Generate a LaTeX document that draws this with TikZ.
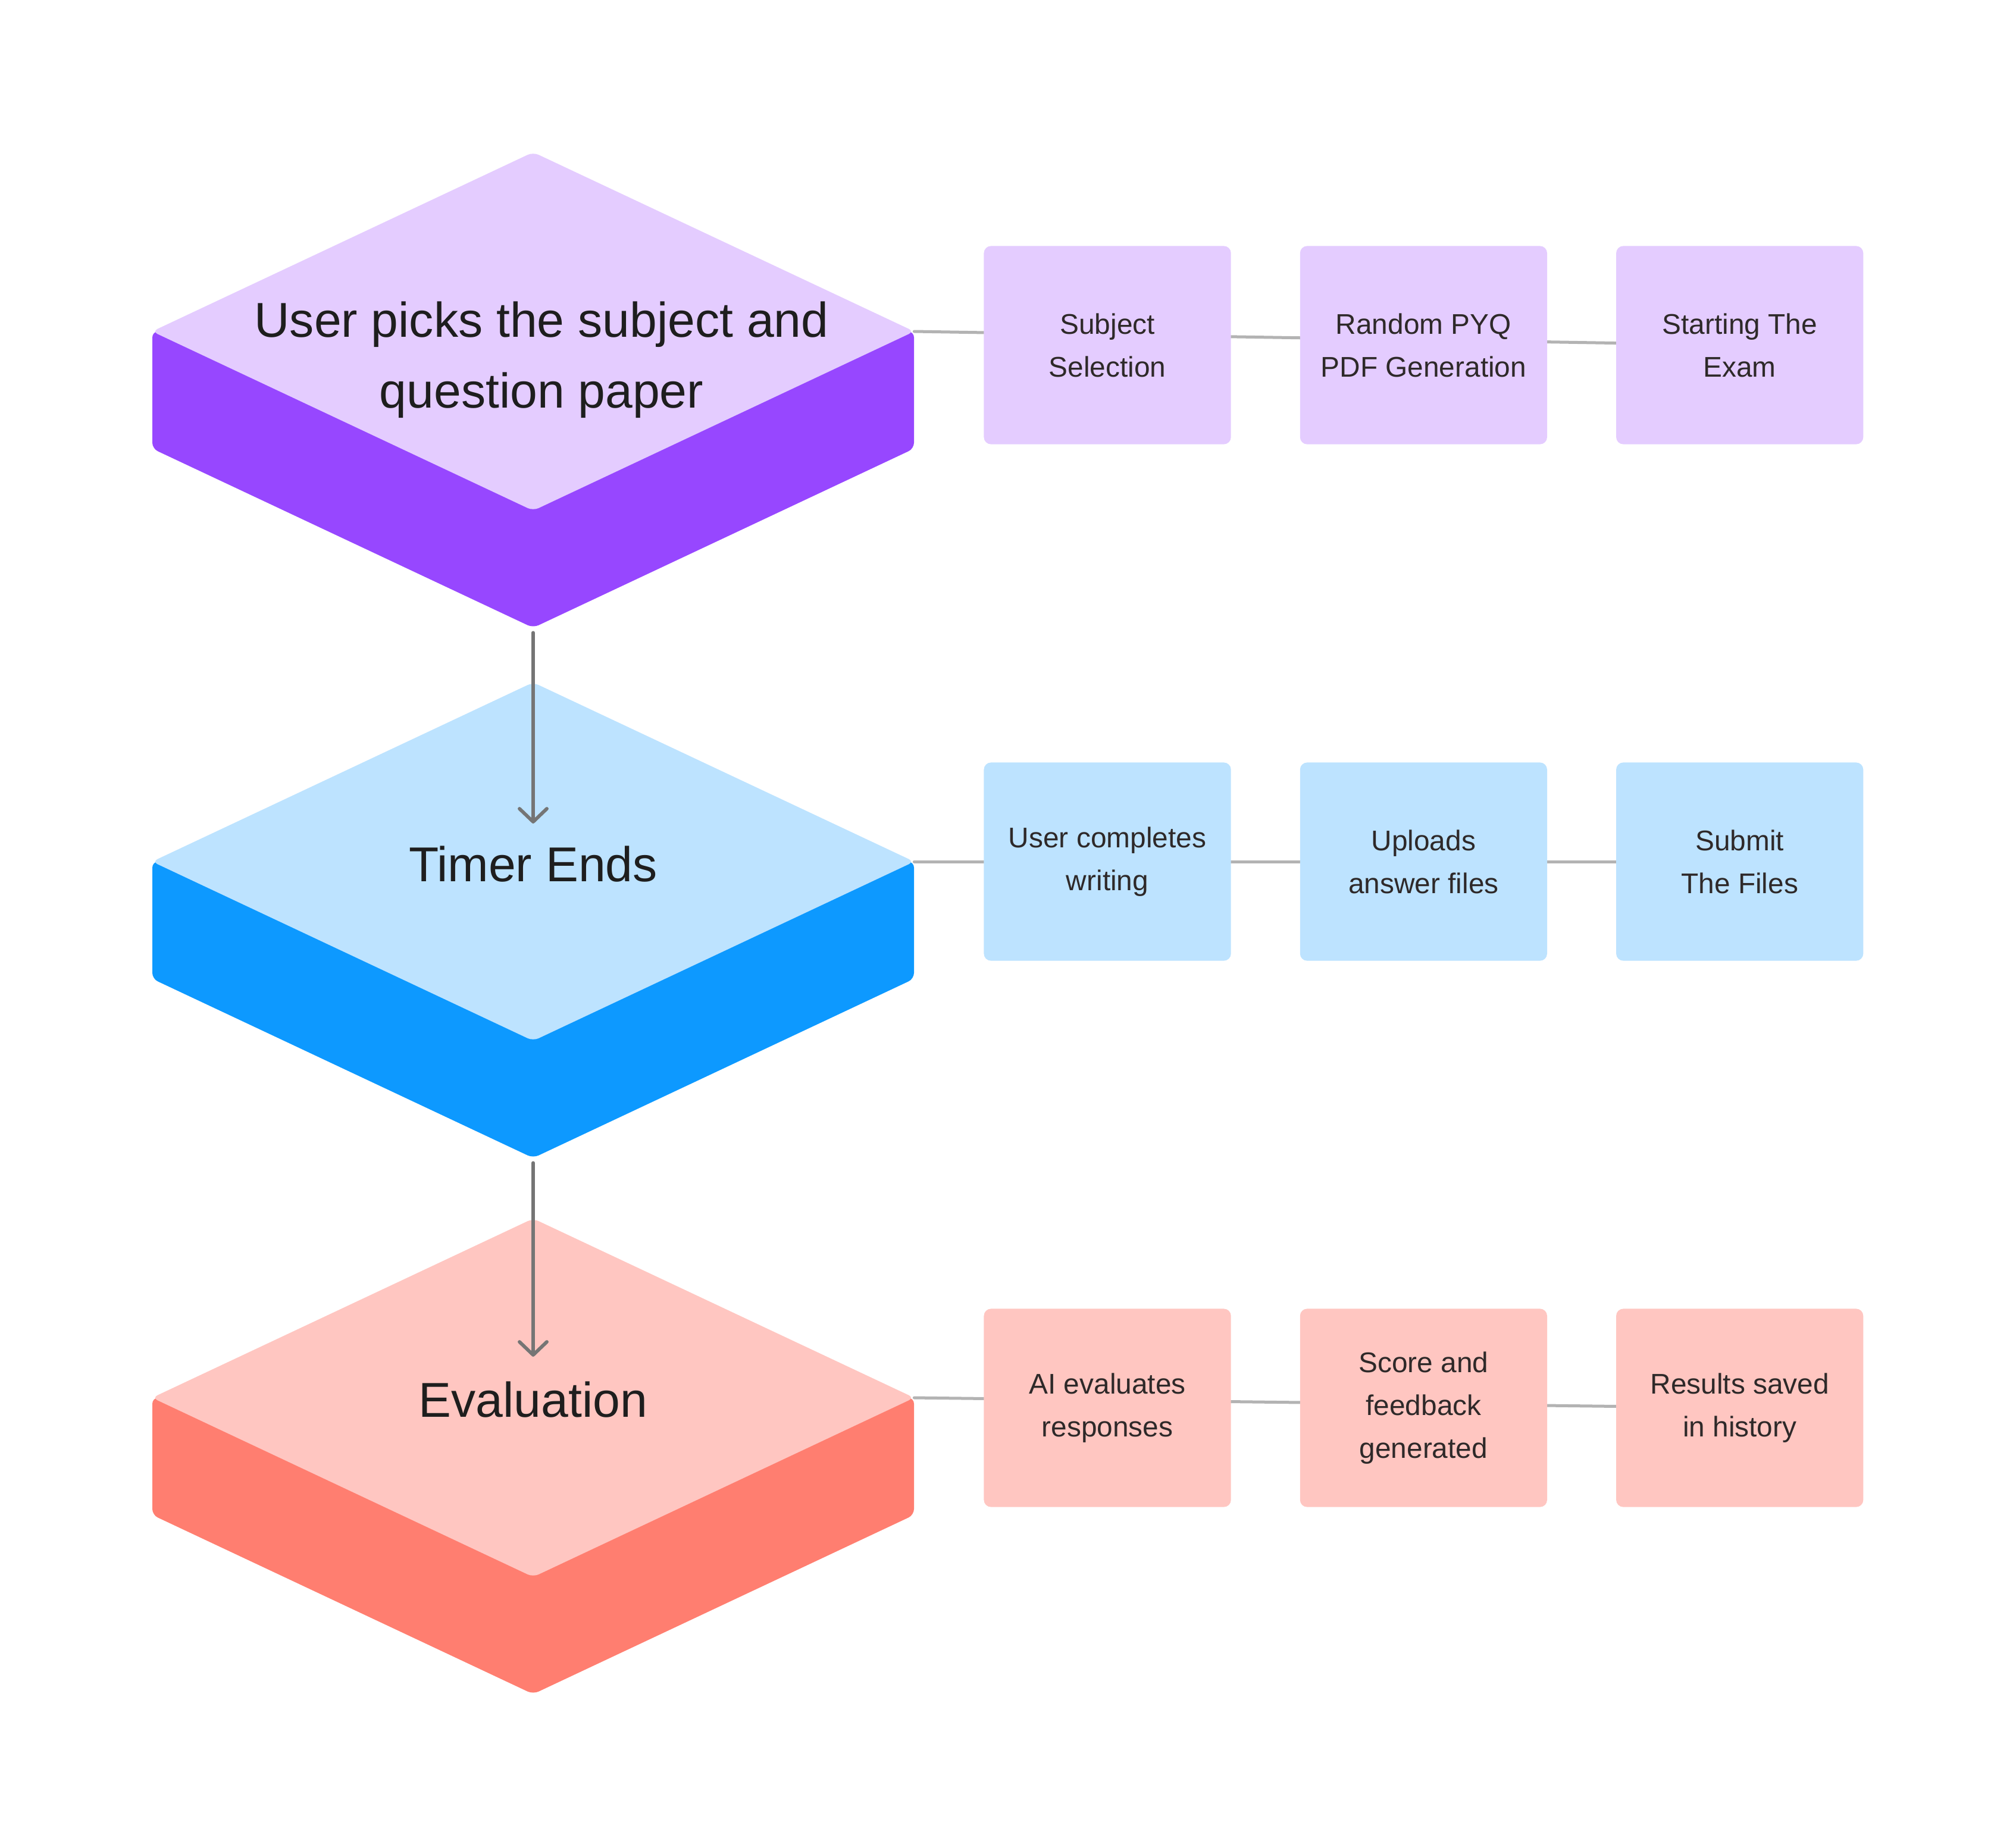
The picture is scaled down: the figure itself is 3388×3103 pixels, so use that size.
\documentclass[tikz,border=0pt]{standalone}
\usepackage{fontspec}
\setmainfont{Liberation Sans}
\usetikzlibrary{shapes.geometric, positioning, arrows.meta, backgrounds}

\definecolor{purpletop}{HTML}{E4CCFF}
\definecolor{purpleside}{HTML}{9747FF}
\definecolor{bluetop}{HTML}{BDE3FF}
\definecolor{blueside}{HTML}{0D99FF}
\definecolor{redtop}{HTML}{FFC6C1}
\definecolor{redside}{HTML}{FF7E70}
\definecolor{linkgray}{HTML}{B3B3B3}
\definecolor{arrowgray}{HTML}{757575}
\definecolor{inktext}{HTML}{1E1E1E}
\definecolor{boxtext}{HTML}{2E2929}

\tikzset{
  stage/.style={diamond, minimum width=12.8cm, minimum height=6.02cm, inner sep=0pt, outer sep=0pt, rounded corners=0.1cm},
  stagetext/.style={align=center, text=inktext, font=\fontsize{23.4}{33.8}\selectfont},
  stepbox/.style={rectangle, minimum width=4.15cm, minimum height=3.33cm, inner sep=0pt, outer sep=0pt, rounded corners=0.12cm, align=center, text=boxtext, font=\fontsize{13.6}{20.5}\selectfont},
  link/.style={draw=linkgray, line width=0.05cm, line cap=round},
  flow/.style={draw=arrowgray, line width=0.058cm, line cap=round, shorten <=0.08cm, -{Straight Barb[round, length=0.22cm, width=0.46cm]}},
}

\begin{document}
\begin{tikzpicture}[x=0.01cm, y=-0.01cm]
    \useasboundingbox (0,0) rectangle (3388,3103);

    % block centres
    \coordinate (c1) at (896,557);
    \coordinate (c2) at (896,1448);
    \coordinate (c3) at (896,2349);

    % extruded sides
    \fill[purpleside, rounded corners=0.1cm] (c1) ++(-640,0) -- ++(0,197) -- ++(640,301) -- ++(640,-301) -- ++(0,-197) -- cycle;
    \fill[blueside, rounded corners=0.1cm] (c2) ++(-640,0) -- ++(0,197) -- ++(640,301) -- ++(640,-301) -- ++(0,-197) -- cycle;
    \fill[redside, rounded corners=0.1cm] (c3) ++(-640,0) -- ++(0,197) -- ++(640,301) -- ++(640,-301) -- ++(0,-197) -- cycle;

    % top faces
    \node[stage, fill=purpletop] (d1) at (c1) {};
    \node[stage, fill=bluetop] (d2) at (c2) {};
    \node[stage, fill=redtop] (d3) at (c3) {};

    \node[stagetext] (t1) at ([xshift=0.14cm, yshift=-0.48cm]d1.center) {User picks the subject and\\question paper};
    \node[stagetext] (t2) at ([yshift=-0.04cm]d2.center) {Timer Ends};
    \node[stagetext] (t3) at ([yshift=-0.03cm]d3.center) {Evaluation};

    % steps of each stage
    \node[stepbox, fill=purpletop, right=1.17cm of d1, yshift=-0.23cm] (s11) {Subject\\Selection};
    \node[stepbox, fill=purpletop, right=1.16cm of s11] (s12) {Random PYQ\\PDF Generation};
    \node[stepbox, fill=purpletop, right=1.16cm of s12] (s13) {Starting The\\Exam};

    \node[stepbox, fill=bluetop, right=1.17cm of d2] (s21) {User completes\\writing};
    \node[stepbox, fill=bluetop, right=1.16cm of s21] (s22) {Uploads\\answer files};
    \node[stepbox, fill=bluetop, right=1.16cm of s22] (s23) {Submit\\The Files};

    \node[stepbox, fill=redtop, right=1.17cm of d3, yshift=-0.17cm] (s31) {AI evaluates\\responses};
    \node[stepbox, fill=redtop, right=1.16cm of s31] (s32) {Score and\\feedback\\generated};
    \node[stepbox, fill=redtop, right=1.16cm of s32] (s33) {Results saved\\in history};

    \begin{scope}[on background layer]
        \draw[link] (d1.east) -- (s13.center);
        \draw[link] (d2.east) -- (s23.center);
        \draw[link] (d3.east) -- (s33.center);
    \end{scope}

    % arrows between stages
    \coordinate (b1) at ([yshift=-1.97cm]d1.south);
    \coordinate (b2) at ([yshift=-1.97cm]d2.south);
    \coordinate (e2) at ([yshift=0.64cm]d2.center);
    \coordinate (e3) at ([yshift=0.69cm]d3.center);
    \draw[flow] (b1) -- (e2);
    \draw[flow] (b2) -- (e3);
\end{tikzpicture}
\end{document}
